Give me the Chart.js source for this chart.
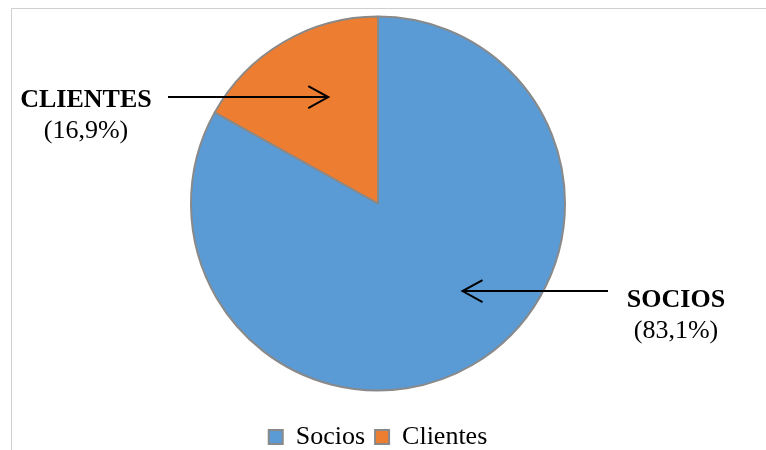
<!DOCTYPE html>
<html>
<head>
<meta charset="utf-8">
<script src="https://cdn.jsdelivr.net/npm/chart.js@4.4.0/dist/chart.umd.min.js"></script>
<style>
  html, body { margin: 0; padding: 0; background: #fff; }
  #wrap { width: 766px; height: 450px; position: relative; overflow: hidden; }
  /* canvas is a bit taller than the frame and lifted, so the pie sits higher */
  #box { position: absolute; left: 0; top: -7px; width: 766px; height: 464px; }
</style>
</head>
<body>
<div id="wrap"><div id="box"><canvas id="pieChart"></canvas></div></div>
<script>
// share of each group, in percent
const categories = ['Socios', 'Clientes'];
const shares = [83.1, 16.9];
const calloutTitles = ['SOCIOS', 'CLIENTES'];

const serif = '"Liberation Serif", "Times New Roman", serif';
const LIFT = 7;

function fmtPct(v) {
    return '(' + v.toFixed(1).replace('.', ',') + '%)';
}

// callout text + arrow for each slice; tip is given relative to the pie radius
const callouts = [
    { index: 0, textX: 676, textY: 307, tailX: 608, tipDx: 0.452, tipDy: 0.468 },
    { index: 1, textX: 86, textY: 107, tailX: 168, tipDx: -0.266, tipDy: -0.569 }
];

// light frame round the plot, open at the right and bottom
const framePlugin = {
    id: 'frame',
    beforeDraw(chart) {
        const ctx = chart.ctx;
        ctx.save();
        ctx.translate(0, LIFT);
        ctx.strokeStyle = '#cfcfcf';
        ctx.lineWidth = 1;
        ctx.beginPath();
        ctx.moveTo(11.5, chart.height);
        ctx.lineTo(11.5, 8.5);
        ctx.lineTo(chart.width, 8.5);
        ctx.stroke();
        ctx.restore();
    }
};

const calloutPlugin = {
    id: 'callouts',
    afterDraw(chart) {
        const ctx = chart.ctx;
        const arc = chart.getDatasetMeta(0).data[0];
        const cx = arc.x, cy = arc.y, r = arc.outerRadius;
        ctx.save();
        ctx.strokeStyle = '#000';
        ctx.fillStyle = '#000';
        ctx.lineWidth = 2;
        callouts.forEach(c => {
            const tipX = cx + c.tipDx * r;
            const tipY = cy + c.tipDy * r;
            const dir = Math.sign(tipX - c.tailX);
            ctx.beginPath();
            ctx.moveTo(c.tailX, tipY);
            ctx.lineTo(tipX, tipY);
            ctx.stroke();
            ctx.beginPath();
            ctx.moveTo(tipX - dir * 20, tipY - 11);
            ctx.lineTo(tipX, tipY);
            ctx.lineTo(tipX - dir * 20, tipY + 11);
            ctx.stroke();

            ctx.textAlign = 'center';
            ctx.textBaseline = 'alphabetic';
            ctx.font = 'bold 26px ' + serif;
            ctx.fillText(calloutTitles[c.index], c.textX, c.textY + LIFT);
            ctx.font = '26px ' + serif;
            ctx.fillText(fmtPct(shares[c.index]), c.textX, c.textY + LIFT + 31);
        });
        ctx.restore();
    }
};

const ctxPie = document.getElementById('pieChart').getContext('2d');
const pieChart = new Chart(ctxPie, {
    type: 'pie',
    data: {
        labels: categories,
        datasets: [{
            data: shares,
            backgroundColor: ['#5B9BD5', '#ED7D31'],
            borderColor: '#898989',
            borderWidth: 2,
            radius: 187
        }]
    },
    options: {
        responsive: true,
        maintainAspectRatio: false,
        animation: false,
        layout: {
            padding: { top: 0, right: 10, bottom: -3, left: 0 }
        },
        plugins: {
            tooltip: { enabled: false },
            legend: {
                position: 'bottom',
                labels: {
                    color: '#000',
                    boxWidth: 14,
                    boxHeight: 14,
                    padding: 10,
                    font: { family: serif, size: 26 }
                }
            }
        }
    },
    plugins: [framePlugin, calloutPlugin]
});
</script>
</body>
</html>
